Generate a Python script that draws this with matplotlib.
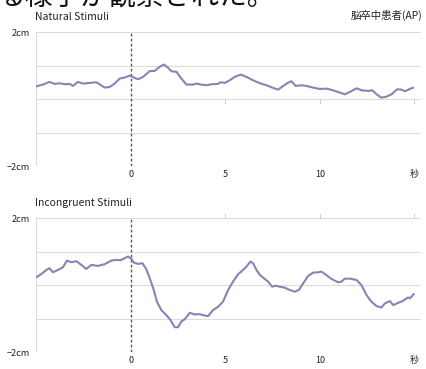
import matplotlib
matplotlib.use("Agg")
import matplotlib.pyplot as plt

plt.rcParams['font.family'] = ['Noto Sans CJK JP', 'DejaVu Sans']

# Natural stimuli trace (time in seconds, displacement in cm)
natural_t = [-4.98, -4.64, -4.29, -4.02, -3.76, -3.49, -3.23, -3.05, -2.79, -2.52,
             -2.17, -1.82, -1.64, -1.38, -1.11, -0.85, -0.58, -0.32, -0.05, 0.21,
             0.39, 0.66, 1.0, 1.27, 1.53, 1.75, 1.92, 2.15, 2.42, 2.68,
             2.95, 3.3, 3.48, 3.74, 4.0, 4.27, 4.62, 4.74, 4.97, 5.24,
             5.5, 5.82, 6.12, 6.47, 6.83, 7.18, 7.53, 7.8, 8.06, 8.33,
             8.5, 8.72, 9.03, 9.3, 9.65, 10.0, 10.35, 10.7, 10.97, 11.32,
             11.59, 11.94, 12.2, 12.56, 12.78, 13.0, 13.26, 13.53, 13.79, 14.09,
             14.32, 14.5, 14.72, 14.94]
natural_v = [0.38, 0.43, 0.51, 0.45, 0.47, 0.44, 0.45, 0.39, 0.51, 0.46,
             0.48, 0.50, 0.44, 0.34, 0.36, 0.46, 0.61, 0.64, 0.70, 0.63,
             0.59, 0.66, 0.83, 0.84, 0.96, 1.03, 0.96, 0.83, 0.81, 0.61,
             0.43, 0.43, 0.46, 0.43, 0.41, 0.44, 0.45, 0.50, 0.48, 0.56,
             0.66, 0.73, 0.66, 0.56, 0.47, 0.41, 0.33, 0.28, 0.39, 0.49,
             0.53, 0.39, 0.41, 0.39, 0.34, 0.30, 0.31, 0.26, 0.21, 0.14,
             0.21, 0.32, 0.26, 0.24, 0.26, 0.14, 0.04, 0.07, 0.14, 0.29,
             0.28, 0.23, 0.29, 0.34]

# Incongruent stimuli trace
incong_t = [-4.98, -4.72, -4.46, -4.29, -4.11, -3.85, -3.58, -3.37, -3.14, -2.87,
            -2.61, -2.35, -2.08, -1.73, -1.38, -1.02, -0.76, -0.53, -0.32, -0.14,
            0.04, 0.16, 0.39, 0.62, 0.83, 1.04, 1.22, 1.39, 1.62, 1.89,
            2.1, 2.33, 2.5, 2.68, 2.86, 3.12, 3.39, 3.65, 3.82, 4.09,
            4.35, 4.62, 4.88, 5.15, 5.41, 5.68, 5.94, 6.12, 6.33, 6.47,
            6.65, 6.83, 7.09, 7.27, 7.48, 7.66, 7.88, 8.15, 8.41, 8.68,
            8.89, 9.12, 9.38, 9.65, 9.91, 10.09, 10.26, 10.62, 10.97, 11.15,
            11.32, 11.59, 11.94, 12.2, 12.47, 12.73, 13.0, 13.26, 13.44, 13.7,
            13.88, 14.15, 14.41, 14.67, 14.76, 14.97]
incong_v = [0.23, 0.33, 0.45, 0.50, 0.38, 0.45, 0.53, 0.73, 0.68, 0.71,
            0.60, 0.48, 0.60, 0.57, 0.62, 0.73, 0.75, 0.74, 0.80, 0.85,
            0.78, 0.67, 0.63, 0.65, 0.47, 0.15, -0.15, -0.50, -0.75, -0.90,
            -1.04, -1.26, -1.26, -1.09, -1.02, -0.83, -0.88, -0.87, -0.90, -0.93,
            -0.75, -0.65, -0.50, -0.15, 0.10, 0.32, 0.45, 0.55, 0.70, 0.65,
            0.45, 0.30, 0.18, 0.10, -0.05, -0.02, -0.05, -0.08, -0.15, -0.20,
            -0.15, 0.05, 0.27, 0.37, 0.38, 0.40, 0.33, 0.18, 0.08, 0.10,
            0.19, 0.19, 0.15, 0.00, -0.30, -0.50, -0.63, -0.67, -0.55, -0.48,
            -0.60, -0.53, -0.47, -0.37, -0.40, -0.27]

x_ticks = [0, 5, 10, 15]
x_tick_labels = ["0", "5", "10", "秒"]
y_ticks = [-2, -1, 0, 1, 2]
y_tick_labels = ["\u22122cm", "", "", "", "2cm"]

panel_titles = ["Natural Stimuli", "Incongruent Stimuli"]
subject_label = "脳卒中患者(AP)"
caption_tail = "る様子が観察された。"

W, H = 427, 369
fig = plt.figure(figsize=(W / 100, H / 100), dpi=100)

line_color = "#8585b5"
grid_color = "#dcdcdc"
text_color = "#222222"


def make_panel(top_px, bottom_px, t, v, title, tick_mark_y):
    left_px, right_px = 36.5, 421
    ax = fig.add_axes([left_px / W, 1 - bottom_px / H,
                       (right_px - left_px) / W, (bottom_px - top_px) / H])
    ax.set_xlim(-4.98, 15.35)
    ax.set_ylim(-2, 2)
    for s in ax.spines.values():
        s.set_visible(False)
    for y in y_ticks:
        ax.axhline(y, color=grid_color, lw=0.8, zorder=1)
    ax.axvline(-4.98, color=grid_color, lw=0.8, zorder=1)
    # small marks on one grid line at the labelled seconds
    for xt in x_ticks[1:]:
        ax.plot([xt, xt], [tick_mark_y, tick_mark_y + (0.12 if tick_mark_y > 0 else -0.12)],
                color="#cccccc", lw=0.7, zorder=1, clip_on=False)
    ax.axvline(0, color="#555555", lw=1.0, ls=(0, (2, 1.6)), zorder=2)
    ax.plot(t, v, color=line_color, lw=1.5, zorder=3, solid_capstyle="round")

    ax.set_xticks(x_ticks)
    ax.set_xticklabels(x_tick_labels, fontsize=6.5, color=text_color)
    ax.set_yticks(y_ticks)
    ax.set_yticklabels(y_tick_labels, fontsize=6.5, color=text_color)
    ax.tick_params(axis="both", length=0, pad=3)
    ax.tick_params(axis="y", pad=5)
    fig.text(35 / W, 1 - (top_px - 15) / H, title, fontsize=7.5, color=text_color,
             ha="left", va="center")
    return ax


make_panel(32, 166, natural_t, natural_v, panel_titles[0], 0)
make_panel(218, 352, incong_t, incong_v, panel_titles[1], 2)

fig.text(422 / W, 1 - 15 / H, subject_label, fontsize=7.5, color=text_color,
         ha="right", va="center")
fig.text(-2 / W, 1 - 5 / H, caption_tail, fontsize=20, color="#111111",
         ha="left", va="baseline")

fig.savefig("out.png", dpi=100, facecolor="white")
